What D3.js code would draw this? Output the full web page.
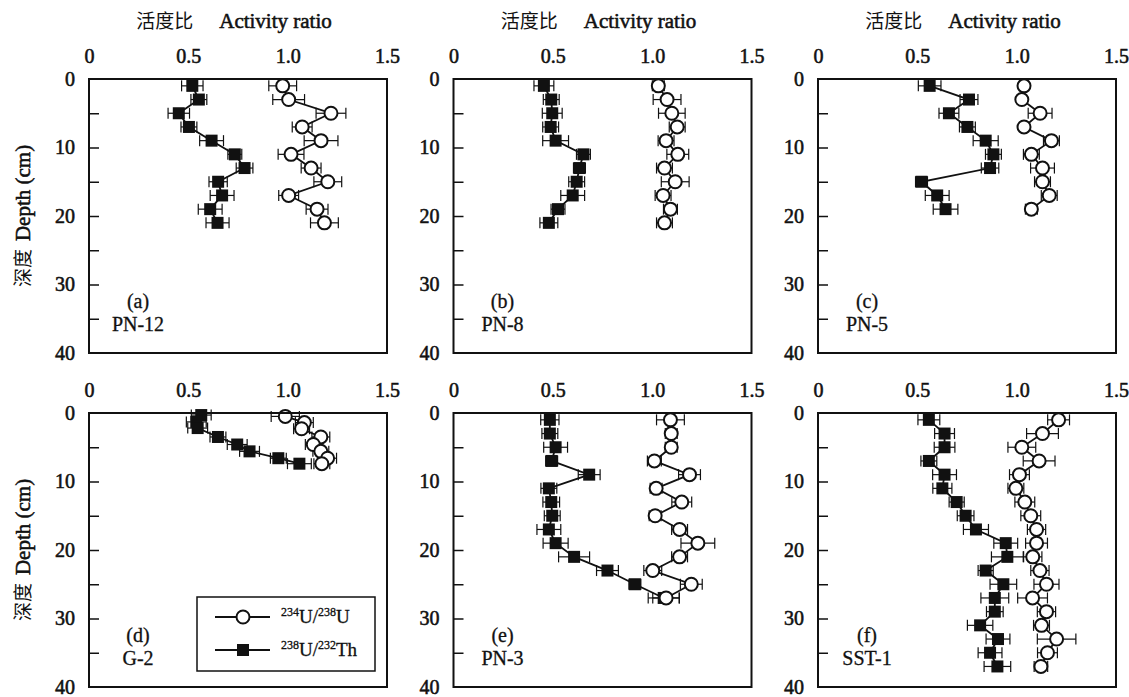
<!DOCTYPE html>
<html lang="zh">
<head>
<meta charset="UTF-8">
<title>Activity ratio profiles</title>
<script src="https://cdn.jsdelivr.net/npm/d3@7"></script>
<style>
body { margin: 0; background: #fff; }
svg text { font-family: "Liberation Serif", serif; fill: #111; }
.cjk { font-family: "Noto Sans CJK SC", sans-serif; }
.bold { stroke: #111; stroke-width: 0.55px; }
</style>
</head>
<body>
<svg id="chart" width="1129" height="697"></svg>
<script>
// axis ticks
const xTicks = [0, 0.5, 1.0, 1.5]
const xTickLabels = ['0', '0.5', '1.0', '1.5']
const yTicks = [0, 10, 20, 30, 40]
const yMinor = [5, 10, 15, 20, 25, 30, 35]

const panelLabels = ['(a)', '(b)', '(c)', '(d)', '(e)', '(f)']
const siteNames = ['PN-12', 'PN-8', 'PN-5', 'G-2', 'PN-3', 'SST-1']

// (a) PN-12
const depthA = [1, 3, 5, 7, 9, 11, 13, 15, 17, 19, 21]
const uuA = [0.975, 1.005, 1.218, 1.073, 1.168, 1.017, 1.118, 1.202, 1.005, 1.148, 1.185]
const uuErrA = [0.07, 0.08, 0.075, 0.05, 0.085, 0.065, 0.05, 0.07, 0.05, 0.055, 0.07]
const uthA = [0.52, 0.553, 0.452, 0.503, 0.617, 0.734, 0.783, 0.65, 0.67, 0.61, 0.647]
const uthErrA = [0.054, 0.04, 0.054, 0.04, 0.06, 0.035, 0.042, 0.046, 0.06, 0.06, 0.058]

// (b) PN-8
const depthB = [1, 3, 5, 7, 9, 11, 13, 15, 17, 19, 21]
const uuB = [1.031, 1.075, 1.099, 1.126, 1.07, 1.129, 1.062, 1.116, 1.055, 1.092, 1.062]
const uuErrB = [0.03, 0.07, 0.067, 0.04, 0.04, 0.055, 0.04, 0.07, 0.04, 0.035, 0.04]
const uthB = [0.455, 0.492, 0.497, 0.489, 0.514, 0.654, 0.634, 0.62, 0.6, 0.526, 0.48]
const uthErrB = [0.05, 0.04, 0.05, 0.04, 0.065, 0.035, 0.03, 0.04, 0.06, 0.035, 0.045]

// (c) PN-5
const depthC = [1, 3, 5, 7, 9, 11, 13, 15, 17, 19]
const uuC = [1.037, 1.026, 1.118, 1.037, 1.175, 1.074, 1.13, 1.13, 1.164, 1.074]
const uuErrC = [0.02, 0.02, 0.06, 0.02, 0.04, 0.04, 0.06, 0.04, 0.04, 0.03]
const uthC = [0.562, 0.76, 0.659, 0.752, 0.844, 0.883, 0.866, 0.521, 0.6, 0.642]
const uthErrC = [0.057, 0.045, 0.05, 0.04, 0.063, 0.04, 0.044, 0.03, 0.06, 0.062]

// (d) G-2
const depthDuu = [0.5, 1.4, 2.3, 3.5, 4.6, 5.6, 6.6, 7.4]
const uuD = [0.988, 1.084, 1.07, 1.167, 1.129, 1.167, 1.201, 1.172]
const uuErrD = [0.071, 0.045, 0.04, 0.045, 0.04, 0.04, 0.045, 0.04]
const depthDuth = [0.3, 1.3, 2.2, 3.5, 4.6, 5.6, 6.6, 7.4]
const uthD = [0.565, 0.54, 0.547, 0.649, 0.746, 0.808, 0.953, 1.059]
const uthErrD = [0.05, 0.05, 0.05, 0.04, 0.05, 0.05, 0.04, 0.06]

// (e) PN-3
const depthE = [1, 3, 5, 7, 9, 11, 13, 15, 17, 19, 21, 23, 25, 27]
const uuE = [1.092, 1.096, 1.096, 1.011, 1.188, 1.02, 1.149, 1.015, 1.138, 1.23, 1.138, 1.003, 1.197, 1.07]
const uuErrE = [0.07, 0.03, 0.03, 0.035, 0.055, 0.03, 0.05, 0.03, 0.04, 0.085, 0.04, 0.045, 0.055, 0.067]
const uthE = [0.485, 0.485, 0.514, 0.494, 0.683, 0.48, 0.492, 0.497, 0.48, 0.514, 0.607, 0.775, 0.913, 1.058]
const uthErrE = [0.046, 0.04, 0.06, 0.03, 0.055, 0.04, 0.042, 0.04, 0.06, 0.063, 0.078, 0.055, 0.03, 0.078]

// (f) SST-1
const depthF = [1, 3, 5, 7, 9, 11, 13, 15, 17, 19, 21, 23, 25, 27, 29, 31, 33, 35, 37]
const uuF = [1.211, 1.13, 1.026, 1.113, 1.014, 0.996, 1.041, 1.071, 1.1, 1.1, 1.081, 1.117, 1.15, 1.08, 1.15, 1.125, 1.201, 1.155, 1.122]
const uuErrF = [0.055, 0.08, 0.07, 0.08, 0.05, 0.04, 0.05, 0.05, 0.046, 0.055, 0.046, 0.046, 0.063, 0.075, 0.046, 0.04, 0.097, 0.05, 0.034]
const uthF = [0.558, 0.637, 0.637, 0.558, 0.637, 0.626, 0.698, 0.743, 0.795, 0.945, 0.953, 0.844, 0.933, 0.89, 0.89, 0.816, 0.906, 0.866, 0.903]
const uthErrF = [0.055, 0.05, 0.052, 0.04, 0.06, 0.048, 0.038, 0.042, 0.063, 0.06, 0.08, 0.038, 0.067, 0.07, 0.042, 0.064, 0.06, 0.06, 0.067]

const zip = (ds, vs, es) => ds.map((d, i) => ({ d: d, v: vs[i], e: es[i] }))

const panels = [
    { uu: zip(depthA, uuA, uuErrA), uth: zip(depthA, uthA, uthErrA) },
    { uu: zip(depthB, uuB, uuErrB), uth: zip(depthB, uthB, uthErrB) },
    { uu: zip(depthC, uuC, uuErrC), uth: zip(depthC, uthC, uthErrC) },
    { uu: zip(depthDuu, uuD, uuErrD), uth: zip(depthDuth, uthD, uthErrD) },
    { uu: zip(depthE, uuE, uuErrE), uth: zip(depthE, uthE, uthErrE) },
    { uu: zip(depthF, uuF, uuErrF), uth: zip(depthF, uthF, uthErrF) }
]

const svg = d3.select('#chart')
const colLeft = [89, 453.5, 818]
const rowTop = [79, 413]
const W = 298, H = 274
const x = d3.scaleLinear().domain([0, 1.5]).range([0, W])
const y = d3.scaleLinear().domain([0, 40]).range([0, H])
const line = d3.line().x(p => x(p.v)).y(p => y(p.d))

const styleTicks = sel => sel.selectAll('text')
    .attr('class', 'bold')
    .style('font-size', '20px')
    .style('font-family', '"Liberation Serif", serif')
    .attr('fill', '#111')

panels.forEach((p, i) => {
    const col = i % 3, row = Math.floor(i / 3)
    const g = svg.append('g').attr('transform', `translate(${colLeft[col]}, ${rowTop[row]})`)

    // top axis labels
    g.append('g').call(d3.axisTop(x).tickValues(xTicks).tickFormat((d, k) => xTickLabels[k]).tickSize(0).tickPadding(16))
        .call(a => a.select('.domain').remove())
        .call(styleTicks)

    // left axis labels
    g.append('g').call(d3.axisLeft(y).tickValues(yTicks).tickSize(0).tickPadding(14))
        .call(a => a.select('.domain').remove())
        .call(styleTicks)

    // inward minor ticks
    g.append('g').call(d3.axisRight(y).tickValues(yMinor).tickSize(10).tickFormat(''))
        .call(a => a.select('.domain').remove())
        .selectAll('line').attr('stroke', '#111').attr('stroke-width', 1.5)

    // error bars
    const drawErr = (data) => {
        const eb = g.append('g').selectAll('g').data(data).enter().append('g')
            .attr('stroke', '#111').attr('stroke-width', 1.2)
        eb.append('line').attr('x1', q => x(q.v - q.e)).attr('x2', q => x(q.v + q.e))
            .attr('y1', q => y(q.d)).attr('y2', q => y(q.d))
        eb.append('line').attr('x1', q => x(q.v - q.e)).attr('x2', q => x(q.v - q.e))
            .attr('y1', q => y(q.d) - 5.5).attr('y2', q => y(q.d) + 5.5)
        eb.append('line').attr('x1', q => x(q.v + q.e)).attr('x2', q => x(q.v + q.e))
            .attr('y1', q => y(q.d) - 5.5).attr('y2', q => y(q.d) + 5.5)
    }
    drawErr(p.uu)
    drawErr(p.uth)

    g.append('path').datum(p.uu).attr('d', line).attr('fill', 'none').attr('stroke', '#111').attr('stroke-width', 1.8)
    g.append('path').datum(p.uth).attr('d', line).attr('fill', 'none').attr('stroke', '#111').attr('stroke-width', 1.8)

    g.append('g').selectAll('rect').data(p.uth).enter().append('rect')
        .attr('x', q => x(q.v) - 6).attr('y', q => y(q.d) - 6).attr('width', 12).attr('height', 12)
        .attr('fill', '#111')
    g.append('g').selectAll('circle').data(p.uu).enter().append('circle')
        .attr('cx', q => x(q.v)).attr('cy', q => y(q.d)).attr('r', 6.5)
        .attr('fill', '#fff').attr('stroke', '#111').attr('stroke-width', 2)

    // frame
    g.append('rect').attr('width', W).attr('height', H).attr('fill', 'none').attr('stroke', '#111').attr('stroke-width', 2)

    // panel label and site name
    g.append('text').attr('x', 49).attr('y', 229).attr('text-anchor', 'middle').attr('class', 'bold')
        .style('stroke-width', '0.3px').style('font-size', '20px').text(panelLabels[i])
    g.append('text').attr('x', 49).attr('y', 252).attr('text-anchor', 'middle').attr('class', 'bold')
        .style('stroke-width', '0.3px').style('font-size', '20px').text(siteNames[i])

    if (row === 0) {
        const t = g.append('text').attr('x', W / 2 - 4).attr('y', -51).attr('text-anchor', 'middle')
        t.append('tspan').attr('class', 'cjk').style('font-size', '19px').text('活度比')
        t.append('tspan').attr('dx', 26).attr('class', 'bold').style('font-size', '21px').text('Activity ratio')
    }

    if (i === 3) {
        const lg = g.append('g')
        lg.append('rect').attr('x', 108).attr('y', 184).attr('width', 178).attr('height', 74)
            .attr('fill', '#fff').attr('stroke', '#111').attr('stroke-width', 1.5)
        const rows = [
            { yy: 204, parts: [['234', 1], ['U/', 0], ['238', 1], ['U', 0]], circle: true },
            { yy: 237, parts: [['238', 1], ['U/', 0], ['232', 1], ['Th', 0]], circle: false }
        ]
        rows.forEach(r => {
            lg.append('line').attr('x1', 126).attr('x2', 181).attr('y1', r.yy).attr('y2', r.yy)
                .attr('stroke', '#111').attr('stroke-width', 1.8)
            if (r.circle) {
                lg.append('circle').attr('cx', 154).attr('cy', r.yy).attr('r', 6.5)
                    .attr('fill', '#fff').attr('stroke', '#111').attr('stroke-width', 2)
            } else {
                lg.append('rect').attr('x', 148).attr('y', r.yy - 6).attr('width', 12).attr('height', 12).attr('fill', '#111')
            }
            const tx = lg.append('text').attr('x', 192).attr('y', r.yy + 6).attr('class', 'bold')
                .style('stroke-width', '0.3px').style('font-size', '19px')
            let shifted = false
            r.parts.forEach(pt => {
                const s = tx.append('tspan').text(pt[0])
                if (pt[1] && !shifted) { s.style('font-size', '12px').attr('dy', -7); shifted = true }
                else if (!pt[1] && shifted) { s.attr('dy', 7); shifted = false }
                else if (pt[1]) s.style('font-size', '12px')
            })
        })
    }
})

// y-axis titles
rowTop.forEach(t => {
    const cy = t + H / 2
    const yt = svg.append('text').attr('transform', `translate(30, ${cy}) rotate(-90)`).attr('text-anchor', 'middle')
    yt.append('tspan').attr('class', 'cjk').style('font-size', '19px').text('深度')
    yt.append('tspan').attr('dx', 8).attr('class', 'bold').style('font-size', '21px').text('Depth (cm)')
})
</script>
</body>
</html>
